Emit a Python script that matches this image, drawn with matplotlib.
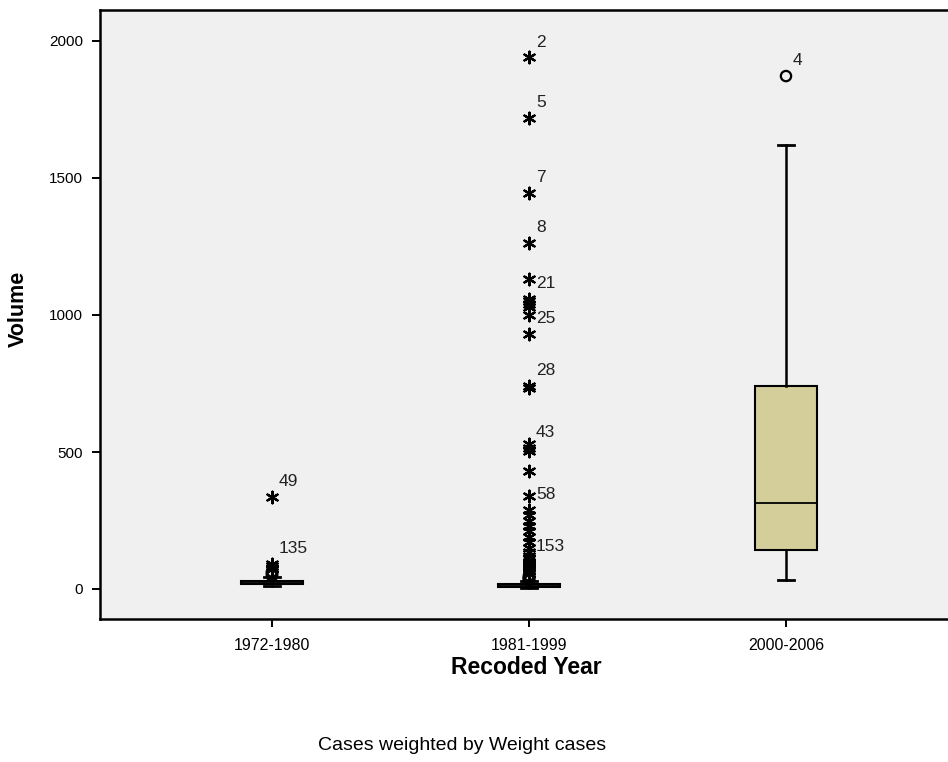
import matplotlib
matplotlib.use("Agg")
import matplotlib.pyplot as plt

plt.rcParams['font.family'] = ['Liberation Sans', 'DejaVu Sans']

# Groups on the category axis
groups = ["1972-1980", "1981-1999", "2000-2006"]

# Five-number summaries per group (whisker low, Q1, median, Q3, whisker high)
whisker_low = [10, 3, 32]
q1 = [19, 8, 142]
median = [25, 12, 313]
q3 = [30, 17, 742]
whisker_high = [45, 30, 1621]

# Mild outliers (circles) and extreme outliers (stars) per group
mild_outliers = [
    [48, 52, 56, 60, 64],
    [33, 35, 37, 39, 41, 43, 46, 50],
    [1872],
]
extreme_outliers = [
    [72, 78, 85, 92, 336],
    [55, 60, 65, 70, 75, 80, 85, 90, 95, 100, 110, 120, 135, 150, 170,
     190, 210, 230, 250, 270, 290, 340, 430, 505, 515, 530, 735, 740,
     930, 1000, 1030, 1040, 1050, 1060, 1131, 1263, 1445, 1720, 1940],
    [],
]

# Case labels: (group index, outlier value, case id)
case_group = [0, 0, 1, 1, 1, 1, 1, 1, 1, 1, 1, 1, 2]
case_value = [336, 92, 1940, 1720, 1445, 1263, 1060, 930, 740, 515, 290, 100, 1872]
case_id = ["49", "135", "2", "5", "7", "8", "21", "25", "28", "43", "58", "153", "4"]

y_ticks = [0, 500, 1000, 1500, 2000]

W, H = 948, 762
fig = plt.figure(figsize=(W / 100, H / 100), dpi=100, facecolor="white")
left_px, right_px, top_px, bottom_px = 100, 952, 10, 619
ax = fig.add_axes([left_px / W, 1 - bottom_px / H,
                   (right_px - left_px) / W, (bottom_px - top_px) / H])
ax.set_facecolor("#f0f0f0")

stats = []
for i, g in enumerate(groups):
    stats.append(dict(label=g, whislo=whisker_low[i], q1=q1[i], med=median[i],
                      q3=q3[i], whishi=whisker_high[i], fliers=[]))

pos = list(range(len(groups)))
ax.bxp(stats, positions=pos, widths=0.241, capwidths=0.061,
       patch_artist=True, showfliers=False,
       boxprops=dict(facecolor="#d3ce9a", edgecolor="black", linewidth=1.5),
       medianprops=dict(color="black", linewidth=1.3),
       whiskerprops=dict(color="black", linewidth=1.8),
       capprops=dict(color="black", linewidth=2.0))

asterisk = (6, 2, 0)
for i in pos:
    if mild_outliers[i]:
        ax.scatter([i] * len(mild_outliers[i]), mild_outliers[i], s=55,
                   marker="o", facecolors="none", edgecolors="black",
                   linewidths=1.6, zorder=4)
    if extreme_outliers[i]:
        ax.scatter([i] * len(extreme_outliers[i]), extreme_outliers[i], s=70,
                   marker=asterisk, color="black", linewidths=1.6, zorder=4)

for g, v, cid in zip(case_group, case_value, case_id):
    ax.annotate(cid, (g, v), xytext=(5, 11), textcoords="offset points",
                ha="left", va="center", fontsize=12.5, color="#222222")

ax.set_xlim(-(272 - left_px) / 257, (right_px - 272) / 257)
ax.set_ylim(-(bottom_px - 589) / 0.274, (589 - top_px) / 0.274)
ax.set_xticks(pos)
ax.set_xticklabels(groups, fontsize=11.5)
ax.set_yticks(y_ticks)
ax.set_yticklabels([str(t) for t in y_ticks], fontsize=11)
ax.tick_params(axis="both", direction="out", length=6, width=1.4, colors="black")
ax.tick_params(axis="y", pad=6)
ax.tick_params(axis="x", pad=8)

for side in ["left", "bottom", "top", "right"]:
    ax.spines[side].set_linewidth(1.8)
    ax.spines[side].set_color("black")

ax.set_xlabel("Recoded Year", fontsize=16.5, fontweight="bold", labelpad=2)
ax.set_ylabel("Volume", fontsize=15.5, fontweight="bold")
ax.yaxis.set_label_coords(-0.083, 0.51)

fig.text(462 / W, 1 - 745 / H, "Cases weighted by Weight cases",
         ha="center", va="center", fontsize=14)

fig.savefig("out.png", dpi=100, facecolor="white")
